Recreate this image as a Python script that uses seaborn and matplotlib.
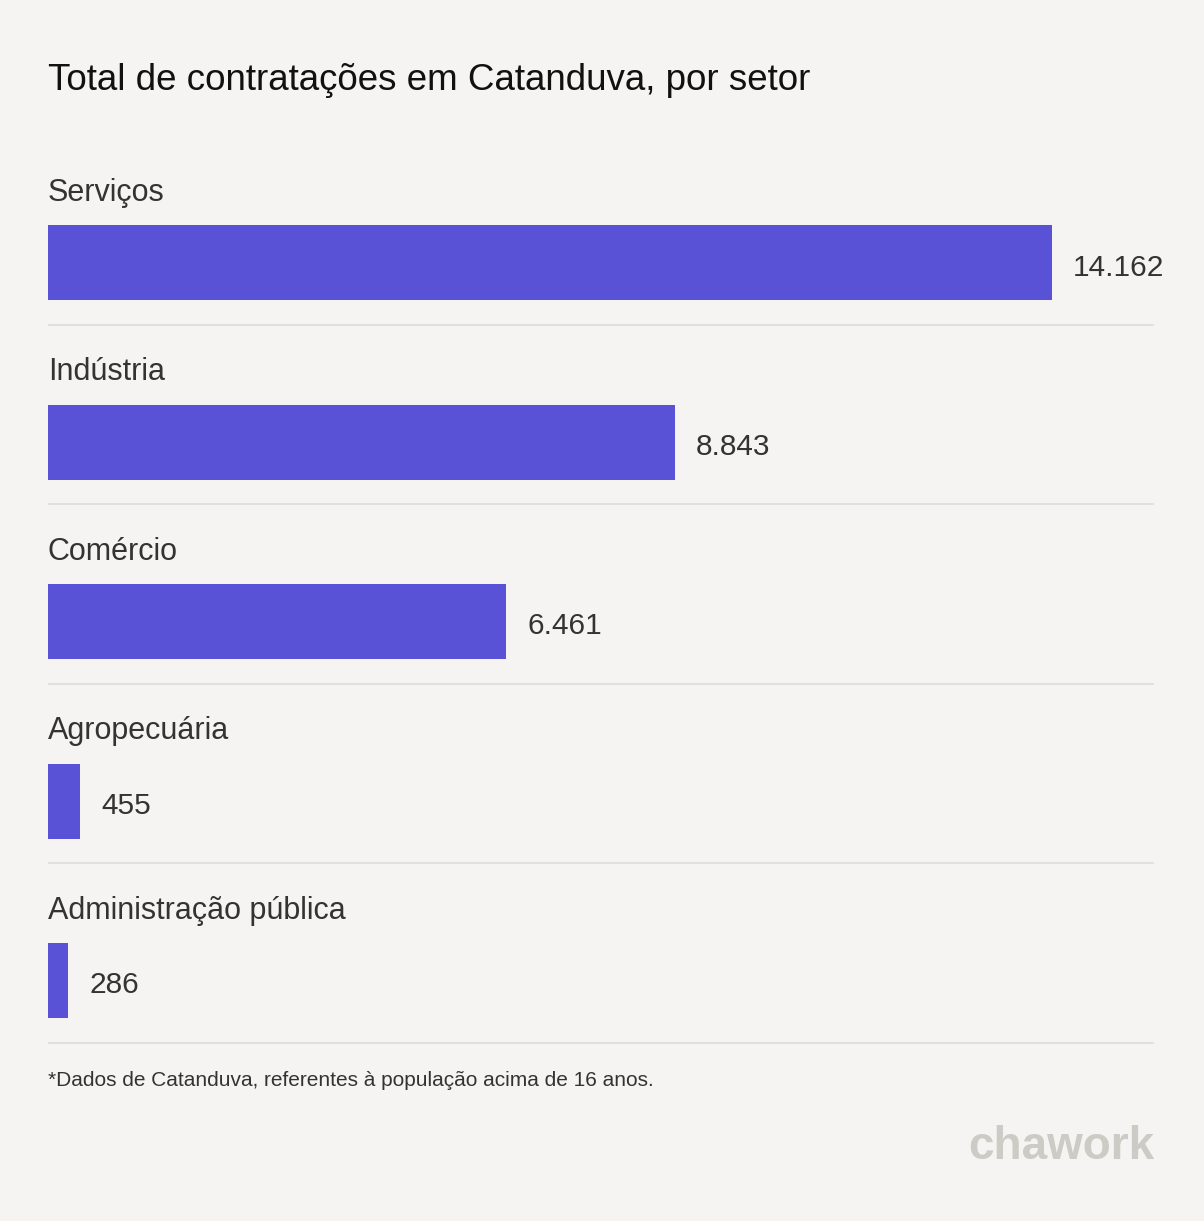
import matplotlib
matplotlib.use("Agg")
import matplotlib.pyplot as plt
import seaborn as sns
import pandas as pd

categories = ["Serviços", "Indústria", "Comércio", "Agropecuária", "Administração pública"]
values = [14162, 8843, 6461, 455, 286]
value_labels = ["14.162", "8.843", "6.461", "455", "286"]
title = "Total de contratações em Catanduva, por setor"
footnote = "*Dados de Catanduva, referentes à população acima de 16 anos."
logo = "chawork"

BG = "#f5f4f2"
BAR = "#5952d6"
GRID = "#e2e0dd"
TXT = "#333333"

sns.set_theme(style="white")
plt.rcParams["font.family"] = ["Liberation Sans", "DejaVu Sans"]

W, H = 1204, 1221
fig = plt.figure(figsize=(W / 100, H / 100), dpi=100, facecolor=BG)
ax = fig.add_axes([0, 0, 1, 1])
ax.set_facecolor(BG)

df = pd.DataFrame({"cat": categories, "val": values})
sns.barplot(data=df, x="val", y="cat", orient="h", color=BAR, width=75 / 179.5,
            saturation=1, ax=ax, edgecolor="none")

pxu = 1004 / 14162.0
x0 = 48
ax.set_xlim(-x0 / pxu, (W - x0) / pxu)
y0 = 262.5
step = 179.5
ax.set_ylim((H - y0) / step, -y0 / step)
ax.axis("off")

xend = (1154 - x0) / pxu
for i, (c, v, lab) in enumerate(zip(categories, values, value_labels)):
    ax.text(0, i - (262.5 - 193) / step, c, fontsize=22, color=TXT, va="center", ha="left")
    ax.text(v + 21 / pxu, i + 5 / step, lab, fontsize=21.5, color=TXT, va="center", ha="left")
    ax.plot([0, xend], [i + (324.5 - 262.5) / step] * 2, color=GRID, lw=1.5,
            solid_capstyle="butt")

fig.text(48 / W, 1 - 80 / H, title, fontsize=26.5, color="#111111", va="center", ha="left")
fig.text(48 / W, 1 - 1080 / H, footnote, fontsize=15, color=TXT, va="center", ha="left")
fig.text(1154 / W, 1 - 1147 / H, logo, fontsize=33, color="#cdcbc5", va="center",
         ha="right", fontweight="bold")

fig.savefig("out.png", dpi=100, facecolor=BG)
